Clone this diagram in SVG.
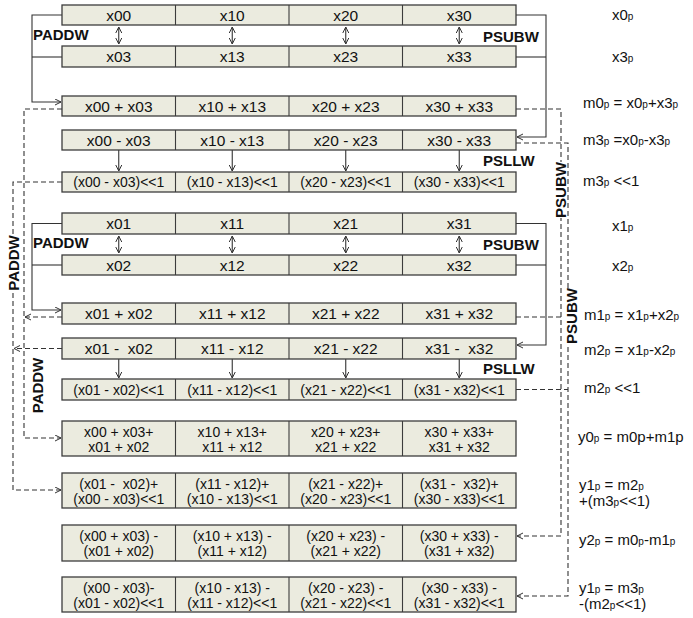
<svg xmlns="http://www.w3.org/2000/svg" width="693" height="618" viewBox="0 0 693 618">
<style>
.box{fill:#ebebdf;stroke:#3c3c3c;stroke-width:1.3}
.div{stroke:#3c3c3c;stroke-width:1.1}
.t{font-family:"Liberation Sans",Arial,sans-serif;font-size:15.5px;fill:#111;text-anchor:middle;white-space:pre}
.s{font-family:"Liberation Sans",Arial,sans-serif;font-size:14px;fill:#111;text-anchor:middle;white-space:pre}
.b{font-family:"Liberation Sans",Arial,sans-serif;font-size:15px;font-weight:bold;fill:#111}
.r{font-family:"Liberation Sans",Arial,sans-serif;font-size:15px;fill:#111;white-space:pre}
.sub{font-size:10px}
.ln{fill:none;stroke:#333;stroke-width:1.1}
.dl{fill:none;stroke:#333;stroke-width:1.1;stroke-dasharray:5,3}
.bg{fill:#fff}
</style>
<defs>
<marker id="ah" markerUnits="userSpaceOnUse" markerWidth="8" markerHeight="8" refX="6" refY="3.5" orient="auto-start-reverse">
<path d="M0,0.5 L6,3.5 L0,6.5" fill="none" stroke="#333" stroke-width="1"/>
</marker>
</defs>

<g id="connectors">
<!-- group 1 solid brackets -->
<path class="ln" d="M62,15 H32 V102 H61" marker-end="url(#ah)"/>
<path class="ln" d="M62,57 H32"/>
<path class="ln" d="M516,15 H546 V137 H517" marker-end="url(#ah)"/>
<path class="ln" d="M516,57 H546"/>
<path class="ln" d="M118.75,27 V44" marker-start="url(#ah)" marker-end="url(#ah)"/>
<path class="ln" d="M232.25,27 V44" marker-start="url(#ah)" marker-end="url(#ah)"/>
<path class="ln" d="M345.75,27 V44" marker-start="url(#ah)" marker-end="url(#ah)"/>
<path class="ln" d="M459.25,27 V44" marker-start="url(#ah)" marker-end="url(#ah)"/>
<path class="ln" d="M118.75,150 V171" marker-end="url(#ah)"/>
<path class="ln" d="M232.25,150 V171" marker-end="url(#ah)"/>
<path class="ln" d="M345.75,150 V171" marker-end="url(#ah)"/>
<path class="ln" d="M459.25,150 V171" marker-end="url(#ah)"/>
<!-- group 2 solid brackets -->
<path class="ln" d="M62,223.5 H32 V310 H61" marker-end="url(#ah)"/>
<path class="ln" d="M62,265 H32"/>
<path class="ln" d="M516,223.5 H546 V345 H517" marker-end="url(#ah)"/>
<path class="ln" d="M516,265 H546"/>
<path class="ln" d="M118.75,236 V253" marker-start="url(#ah)" marker-end="url(#ah)"/>
<path class="ln" d="M232.25,236 V253" marker-start="url(#ah)" marker-end="url(#ah)"/>
<path class="ln" d="M345.75,236 V253" marker-start="url(#ah)" marker-end="url(#ah)"/>
<path class="ln" d="M459.25,236 V253" marker-start="url(#ah)" marker-end="url(#ah)"/>
<path class="ln" d="M118.75,359 V378" marker-end="url(#ah)"/>
<path class="ln" d="M232.25,359 V378" marker-end="url(#ah)"/>
<path class="ln" d="M345.75,359 V378" marker-end="url(#ah)"/>
<path class="ln" d="M459.25,359 V378" marker-end="url(#ah)"/>
<!-- dashed data flow -->
<path class="dl" d="M62,109 H24 V438 H61" marker-end="url(#ah)"/>
<path class="dl" d="M62,182 H13 V490 H61" marker-end="url(#ah)"/>
<path class="dl" d="M62,317 H25" marker-end="url(#ah)"/>
<path class="dl" d="M62,348.5 H14" marker-end="url(#ah)"/>
<path class="dl" d="M516,109 H561 V536 H517" marker-end="url(#ah)"/>
<path class="dl" d="M516,143 H568 V596 H517" marker-end="url(#ah)"/>
<path class="dl" d="M516,317 H561"/>
<path class="dl" d="M516,389.5 H568"/>
<!-- rotated operation labels -->
<rect class="bg" x="6" y="235" width="14" height="56"/>
<text class="b" transform="translate(18.5,263) rotate(-90)" text-anchor="middle">PADDW</text>
<text class="b" transform="translate(43,385.5) rotate(-90)" text-anchor="middle">PADDW</text>
<rect class="bg" x="553.5" y="162" width="13" height="56"/>
<text class="b" transform="translate(565.5,190) rotate(-90)" text-anchor="middle">PSUBW</text>
<rect class="bg" x="565" y="288" width="13" height="56"/>
<text class="b" transform="translate(577,316) rotate(-90)" text-anchor="middle">PSUBW</text>
<!-- horizontal operation labels -->
<text class="b" x="33" y="40">PADDW</text>
<text class="b" x="483" y="42">PSUBW</text>
<text class="b" x="483" y="166">PSLLW</text>
<text class="b" x="33" y="248">PADDW</text>
<text class="b" x="483" y="250">PSUBW</text>
<text class="b" x="483" y="374">PSLLW</text>
</g>

<g id="row-x0">
<rect class="box" x="62" y="5" width="454" height="20"/>
<path class="div" d="M175.5,5V25M289,5V25M402.5,5V25"/>
<text class="t" x="118.75" y="20.5">x00</text><text class="t" x="232.25" y="20.5">x10</text><text class="t" x="345.75" y="20.5">x20</text><text class="t" x="459.25" y="20.5">x30</text>
</g>
<g id="row-x3">
<rect class="box" x="62" y="46" width="454" height="21"/>
<path class="div" d="M175.5,46V67M289,46V67M402.5,46V67"/>
<text class="t" x="118.75" y="62">x03</text><text class="t" x="232.25" y="62">x13</text><text class="t" x="345.75" y="62">x23</text><text class="t" x="459.25" y="62">x33</text>
</g>
<g id="row-m0">
<rect class="box" x="62" y="96" width="454" height="20"/>
<path class="div" d="M175.5,96V116M289,96V116M402.5,96V116"/>
<text class="t" x="118.75" y="111.5">x00 + x03</text><text class="t" x="232.25" y="111.5">x10 + x13</text><text class="t" x="345.75" y="111.5">x20 + x23</text><text class="t" x="459.25" y="111.5">x30 + x33</text>
</g>
<g id="row-m3">
<rect class="box" x="62" y="130" width="454" height="20"/>
<path class="div" d="M175.5,130V150M289,130V150M402.5,130V150"/>
<text class="t" x="118.75" y="145.5">x00 - x03</text><text class="t" x="232.25" y="145.5">x10 - x13</text><text class="t" x="345.75" y="145.5">x20 - x23</text><text class="t" x="459.25" y="145.5">x30 - x33</text>
</g>
<g id="row-m3s">
<rect class="box" x="62" y="172" width="454" height="20"/>
<path class="div" d="M175.5,172V192M289,172V192M402.5,172V192"/>
<text class="s" x="118.75" y="187">(x00 - x03)&lt;&lt;1</text><text class="s" x="232.25" y="187">(x10 - x13)&lt;&lt;1</text><text class="s" x="345.75" y="187">(x20 - x23)&lt;&lt;1</text><text class="s" x="459.25" y="187">(x30 - x33)&lt;&lt;1</text>
</g>
<g id="row-x1">
<rect class="box" x="62" y="213" width="454" height="21"/>
<path class="div" d="M175.5,213V234M289,213V234M402.5,213V234"/>
<text class="t" x="118.75" y="229">x01</text><text class="t" x="232.25" y="229">x11</text><text class="t" x="345.75" y="229">x21</text><text class="t" x="459.25" y="229">x31</text>
</g>
<g id="row-x2">
<rect class="box" x="62" y="255" width="454" height="20"/>
<path class="div" d="M175.5,255V275M289,255V275M402.5,255V275"/>
<text class="t" x="118.75" y="270.5">x02</text><text class="t" x="232.25" y="270.5">x12</text><text class="t" x="345.75" y="270.5">x22</text><text class="t" x="459.25" y="270.5">x32</text>
</g>
<g id="row-m1">
<rect class="box" x="62" y="303" width="454" height="21"/>
<path class="div" d="M175.5,303V324M289,303V324M402.5,303V324"/>
<text class="t" x="118.75" y="319">x01 + x02</text><text class="t" x="232.25" y="319">x11 + x12</text><text class="t" x="345.75" y="319">x21 + x22</text><text class="t" x="459.25" y="319">x31 + x32</text>
</g>
<g id="row-m2">
<rect class="box" x="62" y="338" width="454" height="21"/>
<path class="div" d="M175.5,338V359M289,338V359M402.5,338V359"/>
<text class="t" x="118.75" y="354">x01 -  x02</text><text class="t" x="232.25" y="354">x11 - x12</text><text class="t" x="345.75" y="354">x21 - x22</text><text class="t" x="459.25" y="354">x31 -  x32</text>
</g>
<g id="row-m2s">
<rect class="box" x="62" y="379" width="454" height="21"/>
<path class="div" d="M175.5,379V400M289,379V400M402.5,379V400"/>
<text class="s" x="118.75" y="394.5">(x01 - x02)&lt;&lt;1</text><text class="s" x="232.25" y="394.5">(x11 - x12)&lt;&lt;1</text><text class="s" x="345.75" y="394.5">(x21 - x22)&lt;&lt;1</text><text class="s" x="459.25" y="394.5">(x31 - x32)&lt;&lt;1</text>
</g>
<g id="row-y0">
<rect class="box" x="62" y="421" width="454" height="35"/>
<path class="div" d="M175.5,421V456M289,421V456M402.5,421V456"/>
<text class="s" x="118.75" y="437">x00 + x03+</text><text class="s" x="118.75" y="452">x01 + x02</text>
<text class="s" x="232.25" y="437">x10 + x13+</text><text class="s" x="232.25" y="452">x11 + x12</text>
<text class="s" x="345.75" y="437">x20 + x23+</text><text class="s" x="345.75" y="452">x21 + x22</text>
<text class="s" x="459.25" y="437">x30 + x33+</text><text class="s" x="459.25" y="452">x31 + x32</text>
</g>
<g id="row-y1">
<rect class="box" x="62" y="473" width="454" height="35"/>
<path class="div" d="M175.5,473V508M289,473V508M402.5,473V508"/>
<text class="s" x="118.75" y="489">(x01 -  x02)+</text><text class="s" x="118.75" y="504">(x00 - x03)&lt;&lt;1</text>
<text class="s" x="232.25" y="489">(x11 - x12)+</text><text class="s" x="232.25" y="504">(x10 - x13)&lt;&lt;1</text>
<text class="s" x="345.75" y="489">(x21 - x22)+</text><text class="s" x="345.75" y="504">(x20 - x23)&lt;&lt;1</text>
<text class="s" x="459.25" y="489">(x31 -  x32)+</text><text class="s" x="459.25" y="504">(x30 - x33)&lt;&lt;1</text>
</g>
<g id="row-y2">
<rect class="box" x="62" y="525" width="454" height="36"/>
<path class="div" d="M175.5,525V561M289,525V561M402.5,525V561"/>
<text class="s" x="118.75" y="541">(x00 + x03) -</text><text class="s" x="118.75" y="556">(x01 + x02)</text>
<text class="s" x="232.25" y="541">(x10 + x13) -</text><text class="s" x="232.25" y="556">(x11 + x12)</text>
<text class="s" x="345.75" y="541">(x20 + x23) -</text><text class="s" x="345.75" y="556">(x21 + x22)</text>
<text class="s" x="459.25" y="541">(x30 + x33) -</text><text class="s" x="459.25" y="556">(x31 + x32)</text>
</g>
<g id="row-y3">
<rect class="box" x="62" y="577" width="454" height="35"/>
<path class="div" d="M175.5,577V612M289,577V612M402.5,577V612"/>
<text class="s" x="118.75" y="593">(x00 - x03)-</text><text class="s" x="118.75" y="608">(x01 - x02)&lt;&lt;1</text>
<text class="s" x="232.25" y="593">(x10 - x13) -</text><text class="s" x="232.25" y="608">(x11 - x12)&lt;&lt;1</text>
<text class="s" x="345.75" y="593">(x20 - x23) -</text><text class="s" x="345.75" y="608">(x21 - x22)&lt;&lt;1</text>
<text class="s" x="459.25" y="593">(x30 - x33) -</text><text class="s" x="459.25" y="608">(x31 - x32)&lt;&lt;1</text>
</g>

<g id="labels">
<text class="r" x="612" y="20">x0<tspan class="sub">p</tspan></text>
<text class="r" x="612" y="62">x3<tspan class="sub">p</tspan></text>
<text class="r" x="583" y="108">m0<tspan class="sub">p</tspan> = x0<tspan class="sub">p</tspan>+x3<tspan class="sub">p</tspan></text>
<text class="r" x="583" y="145">m3<tspan class="sub">p</tspan> =x0<tspan class="sub">p</tspan>-x3<tspan class="sub">p</tspan></text>
<text class="r" x="583" y="186">m3<tspan class="sub">p</tspan> &lt;&lt;1</text>
<text class="r" x="612" y="231">x1<tspan class="sub">p</tspan></text>
<text class="r" x="612" y="271">x2<tspan class="sub">p</tspan></text>
<text class="r" x="584" y="320">m1<tspan class="sub">p</tspan> = x1<tspan class="sub">p</tspan>+x2<tspan class="sub">p</tspan></text>
<text class="r" x="584" y="355">m2<tspan class="sub">p</tspan> = x1<tspan class="sub">p</tspan>-x2<tspan class="sub">p</tspan></text>
<text class="r" x="584" y="393">m2<tspan class="sub">p</tspan> &lt;&lt;1</text>
<text class="r" x="578" y="442">y0<tspan class="sub">p</tspan> = m0p+m1p</text>
<text class="r" x="579" y="490">y1<tspan class="sub">p</tspan> = m2<tspan class="sub">p</tspan></text>
<text class="r" x="579" y="506">+(m3<tspan class="sub">p</tspan>&lt;&lt;1)</text>
<text class="r" x="579" y="545">y2<tspan class="sub">p</tspan> = m0<tspan class="sub">p</tspan>-m1<tspan class="sub">p</tspan></text>
<text class="r" x="579" y="593">y1<tspan class="sub">p</tspan> = m3<tspan class="sub">p</tspan></text>
<text class="r" x="579" y="609">-(m2<tspan class="sub">p</tspan>&lt;&lt;1)</text>
</g>
</svg>
